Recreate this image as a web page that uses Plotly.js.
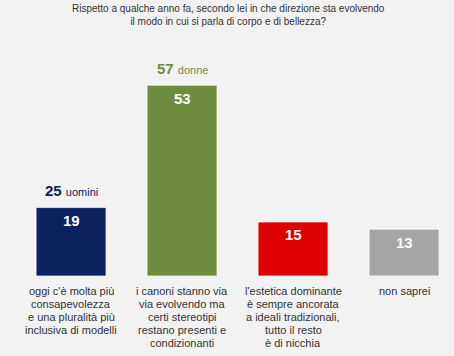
<!DOCTYPE html>
<html><head><meta charset="utf-8">
<script src="https://cdn.plot.ly/plotly-3.0.1.min.js"></script>
<style>html,body{margin:0;padding:0;background:#f2f2f2;}</style>
</head><body>
<div id="chart" style="width:454px;height:356px;"></div>
<script>
const categories = [
  "oggi c'è molta più<br>consapevolezza<br>e una pluralità più<br>inclusiva di modelli",
  "i canoni stanno via<br>via evolvendo ma<br>certi stereotipi<br>restano presenti e<br>condizionanti",
  "l'estetica dominante<br>è sempre ancorata<br>a ideali tradizionali,<br>tutto il resto<br>è di nicchia",
  "non saprei"
];
const totalValues = [19, 53, 15, 13];
const groupValues = [25, 57, null, null];
const groupLabels = ["uomini", "donne", "", ""];
const barColors = ["#0c2260", "#6f8c3e", "#de0000", "#a5a5a5"];
const xpos = [0, 1, 2, 3];
const FONT = 'Liberation Sans, Arial, sans-serif';

const annotations = [];
xpos.forEach((x, i) => {
  annotations.push({
    x: x, y: totalValues[i], xref: 'x', yref: 'y',
    text: '<b>' + totalValues[i] + '</b>', showarrow: false,
    yanchor: 'middle', yshift: -13,
    font: {family: FONT, size: 15, color: '#ffffff'}
  });
  if (groupValues[i] !== null) {
    annotations.push({
      x: x, y: totalValues[i], xref: 'x', yref: 'y',
      text: '<b>' + groupValues[i] + '</b> <span style="font-size:11px">' + groupLabels[i] + '</span>',
      showarrow: false, yanchor: 'middle', yshift: 17,
      font: {family: FONT, size: 15, color: barColors[i]}
    });
  }
  categories[i].split('<br>').forEach((line, k) => {
    annotations.push({
      x: x, y: 0, xref: 'x', yref: 'paper',
      text: line, showarrow: false, align: 'center',
      xanchor: 'center', yanchor: 'middle', yshift: -15 - 13 * k,
      font: {family: FONT, size: 11, color: '#333333'}
    });
  });
});
annotations.push({
  x: 0.504, y: 1, xref: 'paper', yref: 'paper', xanchor: 'center', yanchor: 'top', yshift: 19,
  text: 'Rispetto a qualche anno fa, secondo lei in che direzione sta evolvendo<br>il modo in cui si parla di corpo e di bellezza?',
  showarrow: false, align: 'center',
  font: {family: FONT, size: 10, color: '#333333'}
});

const data = [{
  type: 'bar', x: xpos, y: totalValues,
  marker: {color: barColors, line: {color: 'rgba(255,255,255,0.7)', width: 1}},
  width: 0.63, hoverinfo: 'none'
}];

const layout = {
  width: 454, height: 356,
  paper_bgcolor: '#f2f2f2', plot_bgcolor: '#f2f2f2',
  margin: {l: 10, r: 10, t: 20, b: 80},
  font: {family: FONT, size: 10, color: '#333333'},
  xaxis: {
    range: [-0.55, 3.36], showticklabels: false,
    showgrid: false, zeroline: false, showline: false, ticks: '', fixedrange: true
  },
  yaxis: {range: [0, 71.1], visible: false, fixedrange: true},
  showlegend: false,
  annotations: annotations
};

Plotly.newPlot('chart', data, layout, {displayModeBar: false, staticPlot: true});
</script>
</body></html>
